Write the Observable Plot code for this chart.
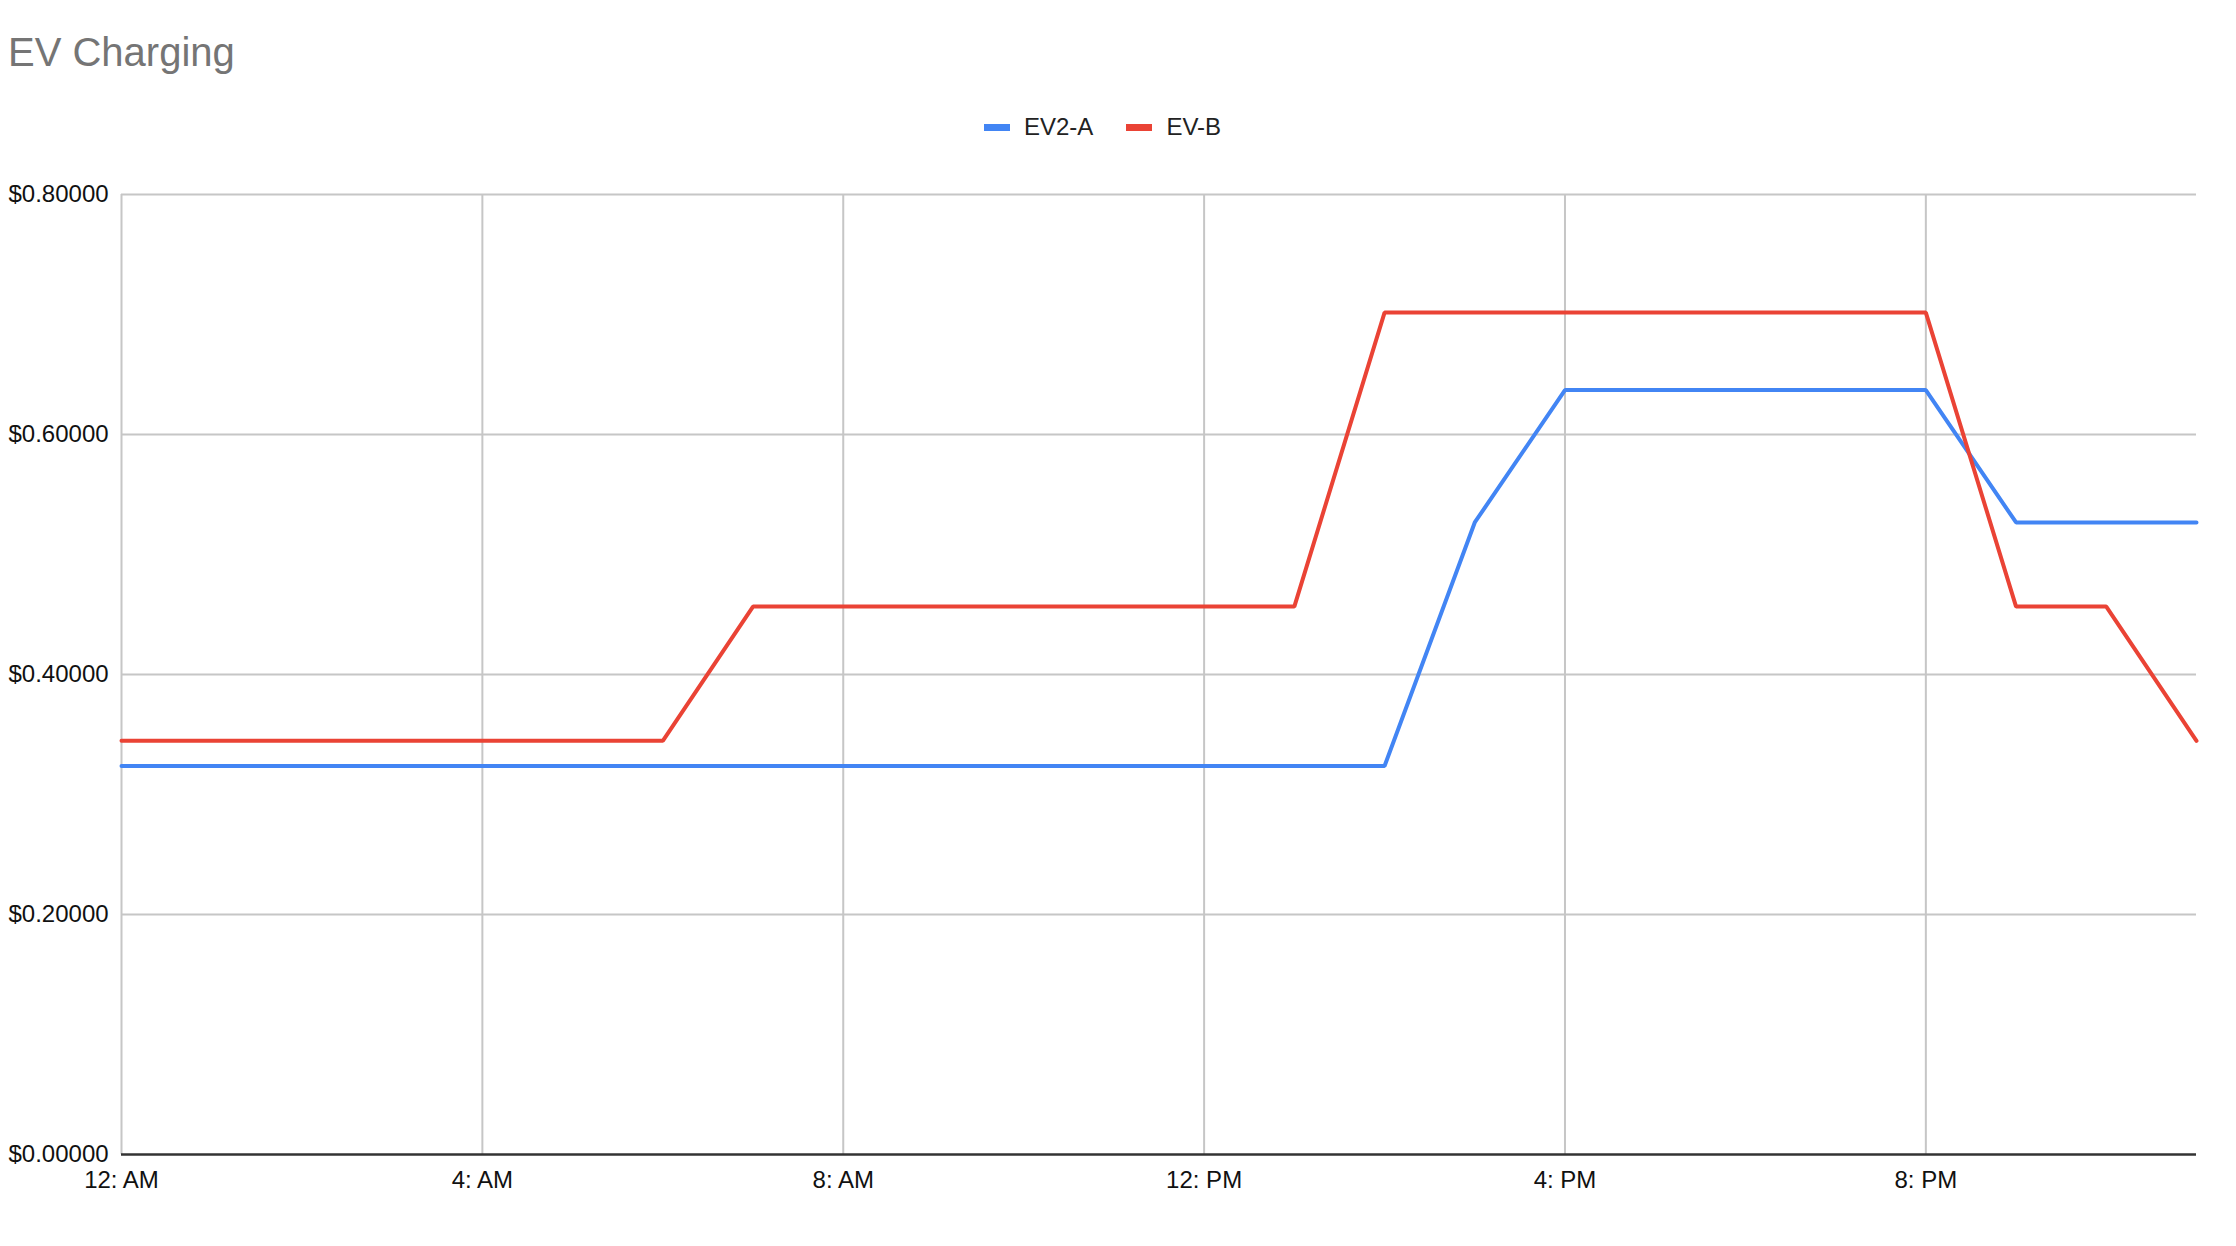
<!DOCTYPE html>
<html>
<head>
<meta charset="utf-8">
<script src="https://cdn.jsdelivr.net/npm/d3@7"></script>
<script src="https://cdn.jsdelivr.net/npm/@observablehq/plot@0.6"></script>
<style>
  html, body { margin: 0; padding: 0; background: #fff; }
  body { width: 2236px; height: 1246px; overflow: hidden; font-family: "Liberation Sans", Arial, sans-serif; }
  #header { position: relative; width: 2236px; height: 160px; }
  #title { position: absolute; left: 8px; top: 32px; font-size: 40px; line-height: 1; color: #757575; white-space: nowrap; }
  #legend { position: absolute; left: 984px; top: 115px; font-size: 24px; line-height: 1; color: #222; display: flex; align-items: center; white-space: nowrap; }
  .sw { display: inline-block; width: 26px; height: 7px; margin-right: 14px; }
  .item { display: flex; align-items: center; margin-right: 33px; }
  #chart svg { display: block; }
</style>
</head>
<body>
<div id="header">
  <div id="title">EV Charging</div>
  <div id="legend"></div>
</div>
<div id="chart"></div>
<script>
const seriesNames = ["EV2-A", "EV-B"];
const seriesColors = ["#4285F4", "#EA4335"];
const hours = [0, 1, 2, 3, 4, 5, 6, 7, 8, 9, 10, 11, 12, 13, 14, 15, 16, 17, 18, 19, 20, 21, 22, 23];
const ev2a = [0.3237, 0.3237, 0.3237, 0.3237, 0.3237, 0.3237, 0.3237, 0.3237, 0.3237, 0.3237, 0.3237, 0.3237, 0.3237, 0.3237, 0.3237, 0.5267, 0.6370, 0.6370, 0.6370, 0.6370, 0.6370, 0.5267, 0.5267, 0.5267];
const evb = [0.3447, 0.3447, 0.3447, 0.3447, 0.3447, 0.3447, 0.3447, 0.4566, 0.4566, 0.4566, 0.4566, 0.4566, 0.4566, 0.4566, 0.7016, 0.7016, 0.7016, 0.7016, 0.7016, 0.7016, 0.7016, 0.4566, 0.4566, 0.3447];
const xTicks = [0, 4, 8, 12, 16, 20];
const xTickLabels = ["12: AM", "4: AM", "8: AM", "12: PM", "4: PM", "8: PM"];
const yTicks = [0, 0.2, 0.4, 0.6, 0.8];

const rows = [];
hours.forEach((h, i) => {
  rows.push({hour: h, value: ev2a[i], series: seriesNames[0]});
});
hours.forEach((h, i) => {
  rows.push({hour: h, value: evb[i], series: seriesNames[1]});
});

// legend
const legend = document.getElementById("legend");
seriesNames.forEach((n, i) => {
  const it = document.createElement("div");
  it.className = "item";
  const sw = document.createElement("span");
  sw.className = "sw";
  sw.style.background = seriesColors[i];
  it.appendChild(sw);
  const t = document.createElement("span");
  t.textContent = n;
  it.appendChild(t);
  legend.appendChild(it);
});

const chart = Plot.plot({
  width: 2236,
  height: 1086,
  marginTop: 34,
  marginBottom: 92,
  marginLeft: 121,
  marginRight: 40,
  style: {fontFamily: "'Liberation Sans', Arial, sans-serif", fontSize: "24px", color: "#111", background: "#fff"},
  x: {domain: [0, 23]},
  y: {domain: [0, 0.8]},
  color: {domain: seriesNames, range: seriesColors},
  marks: [
    Plot.gridY(yTicks.filter(d => d > 0), {stroke: "#c6c6c6", strokeOpacity: 1, strokeWidth: 2}),
    Plot.gridX(xTicks, {stroke: "#c6c6c6", strokeOpacity: 1, strokeWidth: 2}),
    Plot.ruleY([0], {stroke: "#333333", strokeWidth: 2.5}),
    Plot.line(rows, {x: "hour", y: "value", z: "series", stroke: "series", strokeWidth: 4, strokeLinejoin: "miter"}),
    Plot.axisY(yTicks, {tickSize: 0, tickPadding: 0, textAnchor: "start", dx: -113, tickFormat: d3.format("$.5f"), label: null, fill: "#111"}),
    Plot.axisX(xTicks, {tickSize: 0, tickPadding: 16, tickFormat: (d, i) => xTickLabels[xTicks.indexOf(d)], label: null, fill: "#111"})
  ]
});
document.getElementById("chart").appendChild(chart);
</script>
</body>
</html>
